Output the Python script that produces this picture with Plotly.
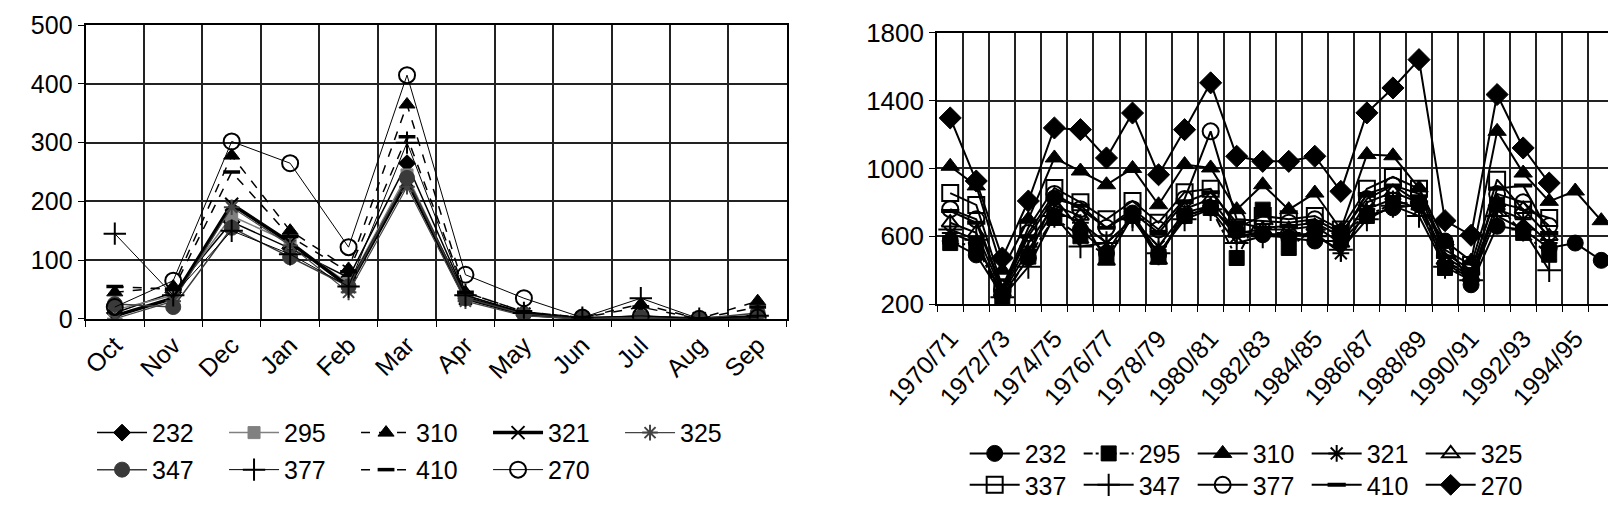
import plotly.graph_objects as go

# monthly values (left panel)
months = ["Oct", "Nov", "Dec", "Jan", "Feb", "Mar", "Apr", "May", "Jun", "Jul", "Aug", "Sep"]
mon_232 = [10, 45, 165, 120, 70, 265, 40, 10, 0, 5, 0, 5]
mon_295 = [15, 40, 175, 130, 60, 245, 35, 8, 0, 3, 0, 0]
mon_310 = [45, 55, 278, 150, 85, 365, 45, 12, 2, 25, 0, 30]
mon_321 = [5, 35, 195, 130, 55, 235, 35, 8, 0, 2, 0, 3]
mon_325 = [0, 30, 190, 125, 45, 225, 30, 5, 0, 2, 0, 2]
mon_347 = [25, 20, 155, 105, 55, 240, 35, 8, 2, 2, 0, 10]
mon_377 = [145, 40, 150, 110, 55, 300, 40, 10, 2, 35, 0, 5]
mon_410 = [55, 50, 250, 140, 80, 310, 45, 12, 2, 20, 0, 20]
mon_270 = [20, 65, 302, 265, 122, 415, 75, 35, 2, 5, 0, 2]

# yearly values (right panel)
seasons = ["1970/71", "1971/72", "1972/73", "1973/74", "1974/75", "1975/76", "1976/77",
           "1977/78", "1978/79", "1979/80", "1980/81", "1981/82", "1982/83", "1983/84",
           "1984/85", "1985/86", "1986/87", "1987/88", "1988/89", "1989/90", "1990/91",
           "1991/92", "1992/93", "1993/94", "1994/95", "1995/96"]
season_ticks = ["1970/71", "", "1972/73", "", "1974/75", "", "1976/77", "", "1978/79", "",
                "1980/81", "", "1982/83", "", "1984/85", "", "1986/87", "", "1988/89", "",
                "1990/91", "", "1992/93", "", "1994/95", ""]
yr_232 = [572, 490, 250, 472, 826, 639, 500, 737, 491, 720, 767, 631, 609, 590, 572, 572, 720, 767, 786, 572, 314, 659, 639, 531, 560, 458]
yr_295 = [560, 548, 230, 480, 708, 600, 480, 720, 480, 720, 767, 472, 757, 531, 650, 620, 720, 793, 800, 413, 371, 786, 620, 491, None, None]
yr_310 = [1013, 897, 400, 700, 1062, 985, 904, 1000, 786, 1023, 1003, 757, 904, 757, 855, 640, 1082, 1075, 885, 572, 454, 1219, 973, 806, 867, 692]
yr_321 = [620, 560, 260, 520, 750, 680, 560, 700, 540, 740, 780, 600, 620, 600, 620, 500, 760, 820, 760, 440, 350, 760, 700, 560, None, None]
yr_325 = [680, 620, 270, 560, 780, 720, 454, 720, 460, 760, 820, 620, 640, 640, 660, 560, 800, 860, 800, 460, 360, 800, 760, 600, None, None]
yr_337 = [855, 785, 300, 650, 885, 800, 700, 808, 680, 860, 880, 650, 720, 700, 720, 640, 880, 950, 880, 520, 430, 934, 757, 708, None, None]
yr_347 = [640, 580, 240, 420, 720, 540, 560, 700, 500, 700, 760, 560, 600, 620, 600, 520, 700, 780, 720, 420, 340, 720, 640, 400, None, None]
yr_377 = [760, 700, 290, 620, 850, 760, 650, 760, 640, 820, 1219, 700, 690, 680, 700, 620, 820, 900, 850, 500, 400, 850, 800, 660, None, None]
yr_410 = [749, 680, 280, 600, 820, 780, 650, 740, 620, 800, 860, 680, 650, 660, 680, 600, 850, 900, 800, 480, 380, 880, 900, 620, None, None]
yr_270 = [1298, 926, 472, 808, 1239, 1229, 1062, 1327, 963, 1229, 1505, 1072, 1042, 1042, 1072, 865, 1328, 1475, 1642, 692, 606, 1436, 1121, 914, None, None]

FONT = "Liberation Sans, Arial, sans-serif"

# name, values, line colour, line width, dash, marker symbol, marker size, legend
left_specs = [
    ("232", mon_232, "black", 1.5, "solid", "diamond", 13, "legend"),
    ("295", mon_295, "#808080", 1.5, "solid", "square", 12, "legend"),
    ("310", mon_310, "black", 1.5, "dash", "triangle-up", 14, "legend"),
    ("321", mon_321, "black", 3.5, "solid", "x-thin-open", 13, "legend"),
    ("325", mon_325, "#444", 1.2, "solid", "asterisk-open", 13, "legend"),
    ("347", mon_347, "#3a3a3a", 1.5, "solid", "circle", 15, "legend2"),
    ("377", mon_377, "black", 1.0, "solid", "cross-thin-open", 16, "legend2"),
    ("410", mon_410, "black", 1.5, "dash", "line-ew-open", 12, "legend2"),
    ("270", mon_270, "black", 1.0, "solid", "circle-open", 16, "legend2"),
]
right_specs = [
    ("232", yr_232, "solid", "circle", 16, "legend3"),
    ("295", yr_295, "dashdot", "square", 15, "legend3"),
    ("310", yr_310, "solid", "triangle-up", 16, "legend3"),
    ("321", yr_321, "solid", "asterisk-open", 14, "legend3"),
    ("325", yr_325, "solid", "triangle-up-open", 15, "legend3"),
    ("337", yr_337, "solid", "square-open", 16, "legend4"),
    ("347", yr_347, "solid", "cross-thin-open", 17, "legend4"),
    ("377", yr_377, "solid", "circle-open", 16, "legend4"),
    ("410", yr_410, "solid", "line-ew-open", 13, "legend4"),
    ("270", yr_270, "solid", "diamond", 17, "legend4"),
]

fig = go.Figure()

for name, vals, col, lw, dash, sym, size, leg in left_specs:
    mline = 3.5 if sym == "line-ew-open" else (2 if sym.endswith("open") else 1)
    fig.add_trace(go.Scatter(
        x=months, y=vals, name=name, mode="lines+markers",
        line=dict(color=col, width=lw, dash=dash),
        marker=dict(symbol=sym, size=size, color=col, line=dict(color=col, width=mline)),
        xaxis="x", yaxis="y", legend=leg))

for name, vals, dash, sym, size, leg in right_specs:
    mline = 4 if sym == "line-ew-open" else (2 if sym.endswith("open") else 1)
    fig.add_trace(go.Scatter(
        x=seasons, y=vals, name=name, mode="lines+markers",
        line=dict(color="black", width=2, dash=dash),
        marker=dict(symbol=sym, size=size, color="black", line=dict(color="black", width=mline)),
        connectgaps=False, xaxis="x2", yaxis="y2", legend=leg))

axis_common = dict(
    showline=True, linecolor="black", linewidth=2, mirror=True,
    showgrid=True, gridcolor="#222", gridwidth=1.5,
    ticks="outside", ticklen=6, tickcolor="black",
    zeroline=False, fixedrange=True, automargin=False,
)

legend_common = dict(
    orientation="h", xanchor="left", yanchor="middle",
    font=dict(family=FONT, size=25, color="black"),
    bgcolor="rgba(0,0,0,0)", itemwidth=50, tracegroupgap=0,
)

fig.update_layout(
    width=1616, height=507,
    margin=dict(l=0, r=0, t=0, b=0),
    paper_bgcolor="white", plot_bgcolor="white",
    font=dict(family=FONT, color="black"),
    xaxis=dict(axis_common, domain=[0.048, 0.482], type="category",
               range=[-0.5, len(months) - 0.5],
               tickfont=dict(family=FONT, size=25, color="black"),
               tickson="boundaries", tickangle=-45, anchor="y"),
    yaxis=dict(axis_common, domain=[0.387, 0.966], range=[0, 500], dtick=100,
               tickfont=dict(family=FONT, size=25, color="black"),
               tick0=0, anchor="x"),
    xaxis2=dict(axis_common, domain=[0.575, 0.994], type="category",
                range=[-0.5, len(seasons) - 0.5],
                tickfont=dict(family=FONT, size=25, color="black"),
                tickson="boundaries", tickangle=-48, anchor="y2", ticklabelstandoff=8,
                tickmode="array", tickvals=seasons, ticktext=season_ticks),
    yaxis2=dict(axis_common, domain=[0.416, 0.951], range=[200, 1800], dtick=400,
                tickfont=dict(family=FONT, size=26, color="black"),
                tick0=200, anchor="x2"),
    legend=dict(legend_common, x=0.052, y=0.162, entrywidth=67),
    legend2=dict(legend_common, x=0.052, y=0.089, entrywidth=67),
    legend3=dict(legend_common, x=0.592, y=0.121, entrywidth=49),
    legend4=dict(legend_common, x=0.592, y=0.059, entrywidth=49),
)

fig.write_html("out.html")
